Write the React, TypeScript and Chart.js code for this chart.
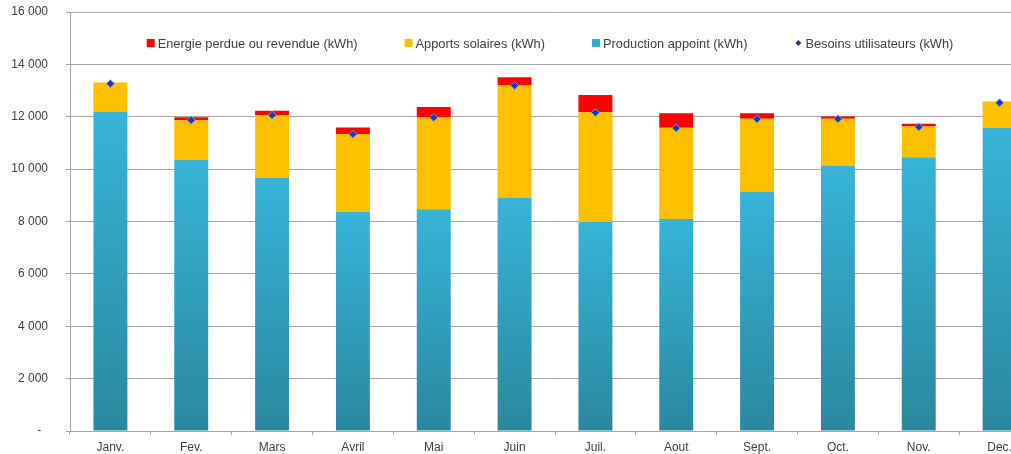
import React, { useEffect, useRef } from "react";
import { Chart, registerables } from "chart.js";

Chart.register(...registerables);

const months = ["Janv.", "Fev.", "Mars", "Avril", "Mai", "Juin", "Juil.", "Aout", "Sept.", "Oct.", "Nov.", "Dec."];
const production = [12200, 10350, 9660, 8370, 8470, 8920, 7980, 8100, 9150, 10140, 10450, 11580];
const solaire = [1110, 1520, 2400, 2970, 3510, 4290, 4190, 3480, 2775, 1780, 1180, 1000];
const perdue = [0, 110, 170, 250, 390, 300, 660, 550, 205, 90, 100, 0];
const besoins = [13260, 11870, 12060, 11330, 11970, 13190, 12160, 11570, 11910, 11910, 11610, 12530];

const legendItems = [
  { label: "Energie perdue ou revendue (kWh)", color: "#FF0000", kind: "box" },
  { label: "Apports solaires (kWh)", color: "#FFC000", kind: "box" },
  { label: "Production appoint (kWh)", color: "#33ADD1", kind: "box" },
  { label: "Besoins utilisateurs (kWh)", color: "#1F3C88", kind: "diamond" },
];

const FONT = "'Liberation Sans', Arial, sans-serif";
const TEXT = "#404040";
const GRID = "#A6A6A6";

const fmt = (v: number) =>
  v === 0 ? "-  " : String(v).replace(/\B(?=(\d{3})+(?!\d))/g, " ");

const legendPlugin = {
  id: "overlayLegend",
  afterDatasetsDraw(chart: any) {
    const { ctx, chartArea } = chart;
    ctx.save();
    ctx.font = `12.8px ${FONT}`;
    ctx.textBaseline = "middle";
    const box = 8;
    const gapText = 3;
    const gapItem = 47;
    const widths = legendItems.map((it) => box + gapText + ctx.measureText(it.label).width);
    const total = widths.reduce((a, b) => a + b, 0) + gapItem * (legendItems.length - 1);
    let x = (chartArea.left + chartArea.right) / 2 - total / 2 - 5;
    const y = 43;
    legendItems.forEach((it, i) => {
      ctx.fillStyle = it.color;
      if (it.kind === "box") {
        ctx.fillRect(x, y - box / 2, box, box);
      } else {
        const cx = x + box / 2;
        ctx.beginPath();
        ctx.moveTo(cx, y - 3);
        ctx.lineTo(cx + 3, y);
        ctx.lineTo(cx, y + 3);
        ctx.lineTo(cx - 3, y);
        ctx.closePath();
        ctx.fill();
      }
      ctx.fillStyle = TEXT;
      ctx.fillText(it.label, x + box + gapText, y + 1);
      x += widths[i] + gapItem;
    });
    ctx.restore();
  },
};

export default function App() {
  const ref = useRef<HTMLCanvasElement | null>(null);
  useEffect(() => {
    if (!ref.current) return;
    const blueGradient = (c: any) => {
      const chart = c.chart;
      const { chartArea, scales } = chart;
      if (!chartArea || !scales || !scales.y || c.type !== "data") return "#33ADD1";
      const top = scales.y.getPixelForValue(c.raw);
      const bottom = scales.y.getPixelForValue(0);
      const g = chart.ctx.createLinearGradient(0, top, 0, bottom);
      g.addColorStop(0, "#37B4D8");
      g.addColorStop(1, "#2A889E");
      return g;
    };
    const chart = new Chart(ref.current, {
      type: "bar",
      data: {
        labels: months,
        datasets: [
          {
            type: "line",
            label: "Besoins utilisateurs (kWh)",
            data: besoins,
            showLine: false,
            pointStyle: "rectRot",
            pointRadius: 4,
            pointBackgroundColor: "#1036E0",
            pointBorderColor: "#8FA27A",
            pointBorderWidth: 1,
            stack: "points",
            order: 0,
          } as any,
          {
            label: "Production appoint (kWh)",
            data: production,
            backgroundColor: blueGradient,
            stack: "bars",
            order: 1,
          },
          {
            label: "Apports solaires (kWh)",
            data: solaire,
            backgroundColor: "#FFC000",
            stack: "bars",
            order: 1,
          },
          {
            label: "Energie perdue ou revendue (kWh)",
            data: perdue,
            backgroundColor: "#FF0000",
            stack: "bars",
            order: 1,
          },
        ],
      },
      options: {
        responsive: false,
        animation: false,
        devicePixelRatio: 1,
        datasets: { bar: { barPercentage: 0.42, categoryPercentage: 1 } },
        layout: { padding: { top: 12, right: 10, left: 0, bottom: 0 } },
        plugins: { legend: { display: false }, tooltip: { enabled: false } },
        scales: {
          x: {
            stacked: true,
            offset: true,
            grid: { display: true, offset: true, drawOnChartArea: false, drawTicks: true, tickLength: 4, color: GRID },
            border: { display: true, color: GRID },
            ticks: { color: TEXT, font: { family: FONT, size: 12 }, padding: 5, maxRotation: 0, autoSkip: false },
            afterFit: (s: any) => { s.height = 23; s.paddingLeft = 0; s.paddingRight = 0; },
          },
          y: {
            stacked: true,
            min: 0,
            max: 16000,
            grid: { color: GRID, tickLength: 4, drawTicks: true },
            border: { display: true, color: GRID },
            ticks: {
              stepSize: 2000,
              color: TEXT,
              font: { family: FONT, size: 12 },
              padding: 18,
              callback: (v: any) => fmt(Number(v)),
            },
            afterFit: (s: any) => { s.width = 70; s.paddingTop = 0; s.paddingBottom = 0; },
          },
        },
      },
      plugins: [legendPlugin],
    });
    return () => chart.destroy();
  }, []);
  return (
    <div style={{ position: "fixed", left: 0, top: 0, width: 1011, height: 454, overflow: "hidden", background: "#fff" }}>
      <canvas ref={ref} width={1050} height={454} style={{ display: "block" }} />
    </div>
  );
}
